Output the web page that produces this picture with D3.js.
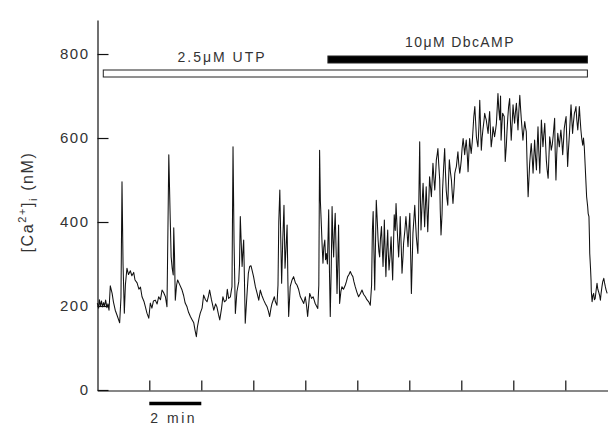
<!DOCTYPE html>
<html><head><meta charset="utf-8">
<script src="https://cdn.jsdelivr.net/npm/d3@7"></script>
<style>
html,body{margin:0;padding:0;background:#fff;}
svg{display:block;font-family:"Liberation Sans",Arial,sans-serif;}
</style></head><body>
<svg id="chart" width="608" height="426"></svg>
<script>
// Axis ticks
const yTicks = [0, 200, 400, 600, 800];
const xTicks = [2, 4, 6, 8, 10, 12, 14, 16, 18];

// Drug application periods (minutes)
const treatments = [
  {label: "2.5μM UTP", start: 0.23, end: 18.85, filled: false},
  {label: "10μM DbcAMP", start: 8.87, end: 18.85, filled: true}
];

// Time scale bar (minutes)
const scaleBar = {start: 2, length: 2, label: "2 min"};

// [Ca2+]i recording: [time (min), concentration (nM)]
const trace = [
[0.00,207],[0.05,195],[0.08,215],[0.12,200],[0.16,212],[0.20,198],[0.24,208],[0.28,200],[0.32,214],[0.37,196],
[0.41,205],[0.45,190],[0.50,248],[0.57,230],[0.62,210],[0.69,190],[0.76,178],[0.86,160],[0.91,220],[0.95,496],
[0.99,300],[1.04,183],[1.08,250],[1.14,290],[1.20,275],[1.27,284],[1.33,272],[1.40,280],[1.45,262],[1.53,255],
[1.60,240],[1.66,245],[1.72,222],[1.80,210],[1.85,198],[1.91,183],[1.98,171],[2.04,207],[2.10,195],[2.16,212],
[2.23,214],[2.30,205],[2.36,222],[2.43,215],[2.49,238],[2.55,232],[2.62,222],[2.68,198],[2.72,400],[2.75,560],
[2.80,420],[2.84,317],[2.88,290],[2.92,274],[2.94,386],[2.97,320],[3.00,214],[3.05,250],[3.09,262],[3.16,252],
[3.26,238],[3.32,225],[3.38,207],[3.45,198],[3.51,185],[3.58,175],[3.64,168],[3.71,160],[3.76,142],[3.81,127],
[3.85,150],[3.91,170],[3.96,183],[4.03,195],[4.09,226],[4.16,215],[4.22,210],[4.28,225],[4.32,238],[4.39,215],
[4.48,190],[4.55,205],[4.60,198],[4.66,180],[4.71,167],[4.78,195],[4.83,222],[4.89,210],[4.96,214],[5.00,240],
[5.05,218],[5.12,222],[5.15,235],[5.18,246],[5.22,579],[5.26,350],[5.31,182],[5.37,234],[5.44,258],[5.47,300],
[5.50,413],[5.53,360],[5.57,294],[5.60,330],[5.63,357],[5.66,260],[5.69,159],[5.73,200],[5.76,230],[5.81,278],
[5.86,294],[5.91,296],[5.95,286],[6.01,270],[6.08,246],[6.14,232],[6.21,214],[6.27,238],[6.33,225],[6.40,214],
[6.47,205],[6.53,198],[6.58,188],[6.63,175],[6.68,195],[6.72,206],[6.77,215],[6.81,222],[6.85,210],[6.91,202],
[6.95,250],[6.98,400],[7.02,476],[7.05,380],[7.09,254],[7.13,350],[7.18,440],[7.22,290],[7.26,340],[7.30,393],
[7.33,260],[7.36,175],[7.42,246],[7.49,262],[7.55,270],[7.62,255],[7.68,250],[7.74,240],[7.81,222],[7.87,215],
[7.94,206],[8.00,222],[8.05,200],[8.09,175],[8.17,230],[8.24,218],[8.30,222],[8.35,212],[8.38,206],[8.48,194],
[8.52,250],[8.55,571],[8.58,450],[8.62,389],[8.65,340],[8.68,302],[8.71,340],[8.75,357],[8.78,310],[8.81,325],
[8.85,300],[8.90,429],[8.93,280],[8.96,175],[9.00,300],[9.03,437],[9.06,360],[9.09,317],[9.12,380],[9.15,421],
[9.19,320],[9.22,230],[9.25,300],[9.28,393],[9.32,206],[9.37,235],[9.41,246],[9.47,240],[9.54,250],[9.58,258],
[9.63,270],[9.68,275],[9.73,282],[9.78,275],[9.83,270],[9.87,258],[9.92,246],[9.99,232],[10.05,222],[10.12,230],
[10.18,238],[10.24,228],[10.31,222],[10.37,215],[10.44,210],[10.50,202],[10.55,250],[10.58,380],[10.61,425],[10.64,330],
[10.67,238],[10.70,350],[10.73,452],[10.77,400],[10.80,357],[10.83,330],[10.86,317],[10.89,360],[10.93,389],[10.96,340],
[10.99,294],[11.02,350],[11.04,405],[11.07,330],[11.10,270],[11.13,330],[11.17,381],[11.19,330],[11.22,286],[11.26,320],
[11.30,365],[11.33,310],[11.36,262],[11.39,340],[11.42,417],[11.46,380],[11.49,444],[11.52,400],[11.55,365],[11.59,317],
[11.63,370],[11.65,413],[11.69,340],[11.72,278],[11.76,320],[11.78,349],[11.83,380],[11.87,413],[11.91,380],[11.95,341],
[11.99,390],[12.02,421],[12.05,330],[12.08,230],[12.11,300],[12.14,373],[12.18,410],[12.21,440],[12.24,400],[12.27,365],
[12.30,345],[12.33,325],[12.36,420],[12.40,591],[12.42,480],[12.45,381],[12.49,440],[12.53,492],[12.56,440],[12.59,389],
[12.62,440],[12.65,484],[12.68,430],[12.71,377],[12.75,450],[12.78,508],[12.82,480],[12.85,460],[12.88,500],[12.91,540],
[12.95,500],[12.98,476],[13.01,510],[13.04,548],[13.07,560],[13.10,575],[13.13,540],[13.17,500],[13.19,430],[13.22,369],
[13.26,420],[13.28,476],[13.32,530],[13.36,575],[13.39,520],[13.42,476],[13.45,455],[13.48,440],[13.51,500],[13.54,548],
[13.58,520],[13.62,500],[13.65,470],[13.68,444],[13.72,480],[13.75,516],[13.78,525],[13.81,532],[13.84,550],[13.87,567],
[13.90,540],[13.94,516],[13.97,530],[14.00,548],[14.03,575],[14.07,599],[14.10,580],[14.13,560],[14.16,580],[14.19,595],
[14.23,560],[14.26,520],[14.29,560],[14.32,599],[14.35,580],[14.38,563],[14.42,590],[14.45,619],[14.48,650],[14.52,675],
[14.55,640],[14.58,603],[14.61,590],[14.64,579],[14.68,630],[14.71,690],[14.74,630],[14.77,571],[14.80,600],[14.83,619],
[14.87,640],[14.90,659],[14.93,650],[14.96,643],[15.00,625],[15.03,611],[15.06,640],[15.09,663],[15.12,620],[15.15,579],
[15.19,600],[15.22,627],[15.25,615],[15.28,603],[15.32,620],[15.35,635],[15.38,670],[15.41,706],[15.44,670],[15.48,643],
[15.51,700],[15.53,595],[15.56,630],[15.59,659],[15.62,655],[15.65,651],[15.69,544],[15.73,580],[15.76,619],[15.79,650],
[15.82,675],[15.86,694],[15.89,640],[15.92,595],[15.96,640],[15.99,679],[16.02,655],[16.05,635],[16.08,660],[16.12,683],
[16.15,650],[16.18,619],[16.21,660],[16.25,702],[16.28,670],[16.31,643],[16.34,620],[16.37,595],[16.40,615],[16.44,639],
[16.47,625],[16.50,615],[16.53,540],[16.57,460],[16.60,500],[16.63,540],[16.66,565],[16.69,587],[16.73,550],[16.76,516],
[16.79,555],[16.82,595],[16.85,560],[16.89,524],[16.92,580],[16.95,627],[16.98,570],[17.02,516],[17.05,580],[17.08,643],
[17.11,610],[17.14,579],[17.17,605],[17.21,635],[17.24,590],[17.27,548],[17.30,525],[17.34,504],[17.37,555],[17.40,603],
[17.43,590],[17.46,571],[17.50,585],[17.53,603],[17.56,625],[17.59,647],[17.61,570],[17.64,500],[17.67,560],[17.71,611],
[17.74,595],[17.77,579],[17.80,600],[17.83,619],[17.87,590],[17.90,560],[17.93,590],[17.96,623],[18.00,640],[18.03,651],
[18.06,590],[18.09,532],[18.12,570],[18.16,611],[18.19,645],[18.22,679],[18.25,645],[18.28,611],[18.31,635],[18.35,659],
[18.38,665],[18.41,675],[18.44,645],[18.48,619],[18.51,645],[18.54,675],[18.57,645],[18.60,619],[18.63,600],[18.67,583],
[18.70,600],[18.73,579],[18.76,540],[18.79,500],[18.82,460],[18.86,437],[18.88,420],[18.91,413],[18.93,360],[18.94,325],
[18.97,290],[18.99,262],[19.00,235],[19.03,210],[19.06,225],[19.09,230],[19.12,215],[19.15,218],[19.19,240],[19.22,254],
[19.25,240],[19.28,234],[19.32,225],[19.35,214],[19.38,232],[19.41,246],[19.44,258],[19.48,266],[19.51,255],[19.54,246],
[19.57,238],[19.61,230]
];

const svg = d3.select("#chart");
const x = d3.scaleLinear().domain([0, 20]).range([97.3, 617.3]);
const y = d3.scaleLinear().domain([0, 881]).range([390, 20]);
const textFill = "#333";

// Y axis: ticks point inward
const yAxis = svg.append("g")
  .attr("transform", "translate(97.5,0)")
  .call(d3.axisLeft(y).tickValues(yTicks).tickSizeInner(-11).tickSizeOuter(0).tickPadding(8));
yAxis.selectAll("text")
  .attr("font-size", 15)
  .attr("letter-spacing", 1.5)
  .attr("font-family", "Liberation Sans, Arial, sans-serif")
  .attr("fill", textFill);

// X axis: unlabeled minute ticks
svg.append("g")
  .attr("transform", "translate(0,390.5)")
  .call(d3.axisBottom(x).tickValues(xTicks).tickSizeInner(-10).tickSizeOuter(0).tickFormat(""));

svg.selectAll(".domain, .tick line").attr("stroke", "#111").attr("stroke-width", 1.2);

// Calcium trace
svg.append("path")
  .datum(trace)
  .attr("fill", "none")
  .attr("stroke", "#111")
  .attr("stroke-width", 1.05)
  .attr("stroke-linejoin", "round")
  .attr("d", d3.line().x(d => x(d[0])).y(d => y(d[1])));

// Drug application bars and labels
const barY = {false: 70, true: 56};
const labelPos = {false: {cx: 222, base: 62, ls: 2}, true: {cx: 460, base: 47, ls: 1.4}};
treatments.forEach(t => {
  svg.append("rect")
    .attr("x", x(t.start)).attr("y", barY[t.filled])
    .attr("width", x(t.end) - x(t.start)).attr("height", 7)
    .attr("fill", t.filled ? "#000" : "#fff")
    .attr("stroke", "#222").attr("stroke-width", 1);
  const lp = labelPos[t.filled];
  svg.append("text")
    .attr("x", lp.cx).attr("y", lp.base)
    .attr("text-anchor", "middle")
    .attr("font-size", 14)
    .attr("letter-spacing", lp.ls)
    .attr("fill", textFill)
    .text(t.label);
});

// Time scale bar
svg.append("line")
  .attr("x1", x(scaleBar.start)).attr("x2", x(scaleBar.start + scaleBar.length))
  .attr("y1", 403.5).attr("y2", 403.5)
  .attr("stroke", "#000").attr("stroke-width", 3.5);
svg.append("text")
  .attr("x", x(scaleBar.start) + 1).attr("y", 423)
  .attr("font-size", 14).attr("letter-spacing", 2.5).attr("fill", textFill)
  .text(scaleBar.label);

// Y axis title: [Ca2+]i (nM)
const yt = svg.append("text")
  .attr("transform", "translate(33,202) rotate(-90)")
  .attr("text-anchor", "middle")
  .attr("font-size", 16)
  .attr("letter-spacing", 1.6)
  .attr("fill", textFill);
yt.append("tspan").text("[Ca");
yt.append("tspan").attr("font-size", 11).attr("dy", -7).text("2+");
yt.append("tspan").attr("dy", 7).text("]");
yt.append("tspan").attr("font-size", 11).attr("dy", 4).text("i");
yt.append("tspan").attr("dy", -4).text(" (nM)");
</script>
</body></html>
